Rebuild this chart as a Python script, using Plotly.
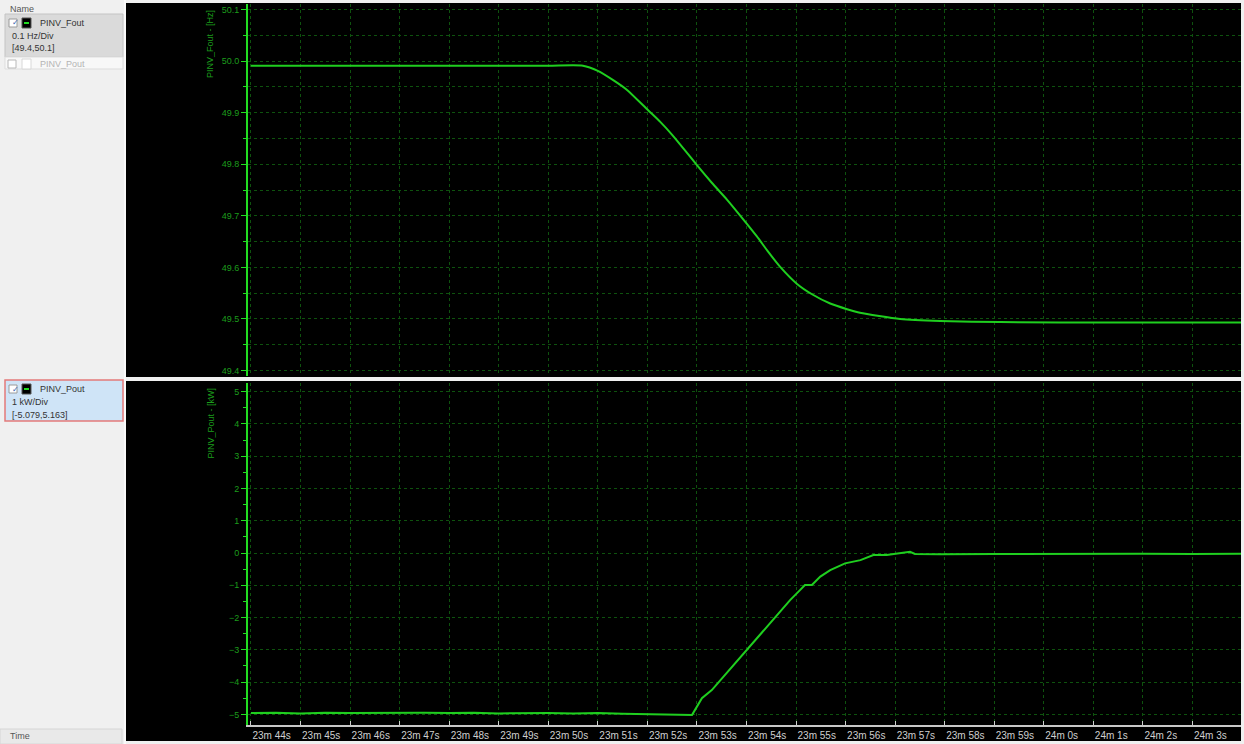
import plotly.graph_objects as go

W, H = 1244, 744

# ---------------- data ----------------
# time in seconds after 23m 44s
x_tick_vals = list(range(0, 20))
x_tick_text = ["23m 44s", "23m 45s", "23m 46s", "23m 47s", "23m 48s", "23m 49s",
               "23m 50s", "23m 51s", "23m 52s", "23m 53s", "23m 54s", "23m 55s",
               "23m 56s", "23m 57s", "23m 58s", "23m 59s", "24m 0s", "24m 1s",
               "24m 2s", "24m 3s"]

fout_t = [0.0, 2.0, 4.0, 6.0, 6.70, 7.00, 7.31, 7.59, 8.01, 8.26, 8.50, 8.80, 9.00,
          9.30, 9.61, 9.91, 10.21, 10.44, 10.68, 11.02, 11.34, 11.69, 12.03, 12.29,
          13.10, 13.91, 15.12, 17.5, 19.98]
fout_v = [49.991, 49.991, 49.991, 49.991, 49.991, 49.981, 49.963, 49.944, 49.905,
          49.882, 49.857, 49.822, 49.798, 49.764, 49.731, 49.696, 49.660, 49.630,
          49.601, 49.568, 49.547, 49.530, 49.519, 49.512, 49.500, 49.496, 49.494,
          49.493, 49.493]

pout_t = [0.0, 0.5, 1.0, 1.5, 2.0, 2.5, 3.0, 3.5, 4.0, 4.5, 5.0, 5.5, 6.0, 6.5,
          7.0, 7.5, 8.0, 8.5, 8.90, 8.92, 9.10, 9.30, 9.60, 9.80, 10.11, 10.41,
          10.61, 10.88, 11.08, 11.18, 11.32, 11.49, 11.69, 11.99, 12.30, 12.56,
          12.83, 13.07, 13.30, 13.40, 13.91, 15.0, 16.0, 17.0, 18.0, 19.0, 19.98]
pout_v = [-4.96, -4.95, -4.97, -4.95, -4.96, -4.95, -4.96, -4.95, -4.96, -4.95,
          -4.97, -4.96, -4.96, -4.97, -4.96, -4.98, -4.99, -5.00, -5.02, -4.97,
          -4.50, -4.25, -3.72, -3.37, -2.80, -2.28, -1.92, -1.46, -1.15, -0.99,
          -0.99, -0.73, -0.53, -0.32, -0.22, -0.06, -0.06, -0.01, 0.04, -0.03,
          -0.04, -0.03, -0.02, -0.03, -0.02, -0.03, -0.02]

top_y_range = [49.3895, 50.1105]
bot_y_range = [-5.33, 5.27]
x_range = [-0.06, 19.98]

# ---------------- helpers ----------------
def px(x):
    return x / W

def py(y):
    return 1 - y / H

GREEN_LINE = "#22dd22"
GREEN_TXT = "#1c9c1c"
GRID = "#0e520e"
TRACE = "#1fcf1f"
FONT = "Liberation Sans"

fig = go.Figure()
fig.add_trace(go.Scatter(x=fout_t, y=fout_v, mode="lines",
                         line=dict(color=TRACE, width=2, shape="spline", smoothing=0.6),
                         xaxis="x", yaxis="y", showlegend=False))
fig.add_trace(go.Scatter(x=pout_t, y=pout_v, mode="lines",
                         line=dict(color=TRACE, width=2), xaxis="x2", yaxis="y2",
                         showlegend=False))

xdom = [px(248), px(1241)]
common_x = dict(range=x_range, domain=xdom, tickvals=x_tick_vals,
                showgrid=True, gridcolor=GRID, griddash="dot", gridwidth=1,
                zeroline=False, fixedrange=True)

fig.update_layout(
    width=W, height=H,
    margin=dict(l=0, r=0, t=0, b=0),
    paper_bgcolor="#f0f0f0",
    plot_bgcolor="#000000",
    xaxis=dict(**common_x, anchor="y", showticklabels=False, ticks="",
               showline=False),
    yaxis=dict(domain=[py(376), py(4)], range=top_y_range, anchor="x",
               dtick=0.1, tick0=49.4, tickformat=".1f",
               showline=True, linecolor=GREEN_LINE, linewidth=2,
               ticks="outside", ticklen=5, tickcolor=GREEN_LINE, tickwidth=1,
               tickfont=dict(family=FONT, size=9, color=GREEN_TXT),
               showgrid=True, gridcolor=GRID, griddash="dot", gridwidth=1,
               minor=dict(dtick=0.05, tick0=49.4, ticks="outside", ticklen=3,
                          tickcolor=GREEN_LINE, showgrid=True, gridcolor=GRID,
                          griddash="dot", gridwidth=1),
               zeroline=False),
    xaxis2=dict(**common_x, anchor="y2", ticktext=x_tick_text,
                showticklabels=True, ticks="inside", ticklen=4,
                tickcolor="#d0d0d0", tickwidth=1,
                showline=True, linecolor="#c8c8c8", linewidth=2,
                ticklabelposition="outside right",
                tickfont=dict(family=FONT, size=10, color="#cfcfcf")),
    yaxis2=dict(domain=[py(725), py(383)], range=bot_y_range, anchor="x2",
                dtick=1, tick0=0,
                showline=True, linecolor=GREEN_LINE, linewidth=2,
                ticks="outside", ticklen=5, tickcolor=GREEN_LINE, tickwidth=1,
                tickfont=dict(family=FONT, size=9, color=GREEN_TXT),
                showgrid=True, gridcolor=GRID, griddash="dot", gridwidth=1,
                minor=dict(dtick=0.5, tick0=0, ticks="outside", ticklen=3,
                           tickcolor=GREEN_LINE, showgrid=False),
                zeroline=False),
)

shapes = []
def rect(x0, y0, x1, y1, fill, line=None, lw=0, layer="below"):
    shapes.append(dict(type="rect", xref="paper", yref="paper",
                       x0=px(x0), x1=px(x1), y0=py(y1), y1=py(y0),
                       fillcolor=fill,
                       line=dict(color=line or fill, width=lw), layer=layer))

# chart black areas
rect(126, 3, 1241, 377, "#000000")
rect(126, 381, 1241, 741, "#000000")
# left panel divider
rect(124, 0, 126, 744, "#fafafa")

# top item
rect(5, 14, 123, 57, "#dadada", "#c4c4c4", 1, "above")
rect(9, 19, 17, 27, "#ffffff", "#9a9a9a", 1, "above")
rect(22, 18, 31, 28, "#000000", "#555555", 1, "above")
shapes.append(dict(type="line", xref="paper", yref="paper", x0=px(24), x1=px(29),
                   y0=py(23), y1=py(23), line=dict(color="#22dd22", width=2),
                   layer="above"))
rect(5, 57, 123, 69, "#f8f8f8", "#dddddd", 1, "above")
rect(8, 60, 16, 68, "#ffffff", "#b8b8b8", 1, "above")
rect(22, 59, 31, 69, "#ffffff", "#d8d8d8", 1, "above")

# bottom item
rect(5, 380, 123, 421, "#cfe4f7", "#e37a7a", 1.5, "above")
rect(9, 385, 17, 393, "#ffffff", "#9a9a9a", 1, "above")
rect(22, 384, 31, 394, "#000000", "#555555", 1, "above")
shapes.append(dict(type="line", xref="paper", yref="paper", x0=px(24), x1=px(29),
                   y0=py(389), y1=py(389), line=dict(color="#22dd22", width=2),
                   layer="above"))

# time box
rect(0, 729, 122, 744, "#e9e9e9", "#d6d6d6", 1, "above")

fig.update_layout(shapes=shapes)

ann = []
def text(x, y, s, color="#333333", size=9, xanchor="left", angle=0, yanchor="middle"):
    ann.append(dict(x=px(x), y=py(y), xref="paper", yref="paper", text=s,
                    showarrow=False, xanchor=xanchor, yanchor=yanchor,
                    textangle=angle,
                    font=dict(family=FONT, size=size, color=color)))

text(8, 9, "Name", "#555555")
text(10, 23, "✓", "#3a5fb0", 8)
text(38, 23, "PINV_Fout")
text(10, 36, "0.1 Hz/Div")
text(10, 48, "[49.4,50.1]")
text(38, 64, "PINV_Pout", "#b4b4b4")
text(10, 389, "✓", "#3a5fb0", 8)
text(38, 389, "PINV_Pout")
text(10, 402, "1 kW/Div")
text(10, 415, "[-5.079,5.163]")
text(8, 736, "Time", "#555555")

text(210, 8, "PINV_Fout - [Hz]", GREEN_TXT, 9, "center", -90, "top")
text(210, 386, "PINV_Pout - [kW]", GREEN_TXT, 9, "center", -90, "top")

fig.update_layout(annotations=ann)

fig.write_html("out.html",
               config={"displayModeBar": False},
               post_script="document.body.style.margin='0';"
                           "document.body.style.overflow='hidden';")
